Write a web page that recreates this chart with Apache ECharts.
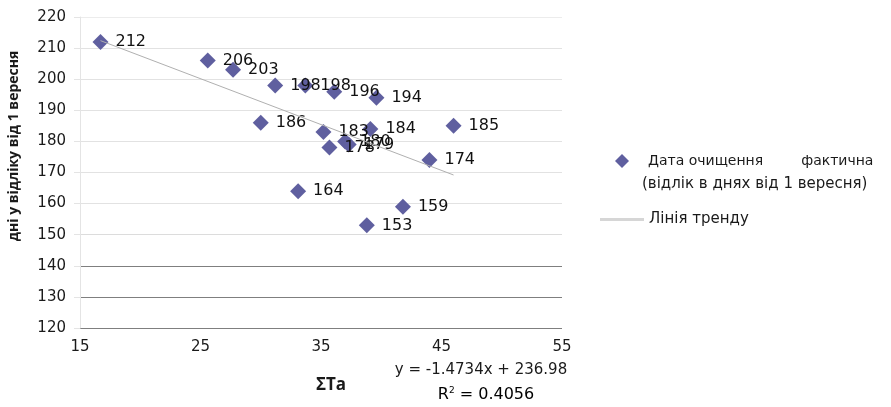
<!DOCTYPE html>
<html>
<head>
<meta charset="utf-8">
<script src="https://cdn.jsdelivr.net/npm/echarts@6/dist/echarts.min.js"></script>
<style>
html,body{margin:0;padding:0;background:#fff;}
#c{width:891px;height:407px;}
</style>
</head>
<body>
<div id="c"></div>
<script>
// ΣTa values (x) and date of cleaning, days from 1 September (y)
const sumTa = [16.7, 25.6, 27.7, 31.2, 33.7, 36.1, 39.6, 30.0, 35.2, 35.7, 37.0, 37.3, 39.1, 46.0, 44.0, 33.1, 41.8, 38.8];
const days  = [212, 206, 203, 198, 198, 196, 194, 186, 183, 178, 180, 179, 184, 185, 174, 164, 159, 153];
// trend line ends (y = -1.4734x + 236.98)
const trendX = [16.7, 46.0];
const trendY = [212.4, 169.2];
const seriesName = 'Дата очищення фактична (відлік в днях від 1 вересня)';
const trendName = 'Лінія тренду';
const xAxisTitle = 'ΣTa';
const yAxisTitle = 'дні у відліку від 1 вересня';
const equation = 'y = -1.4734x + 236.98';
const r2Value = '0.4056';

const FONT = '"DejaVu Sans", "Noto Sans", sans-serif';
const TFONT = '"Open Sans", "Noto Sans", sans-serif';
const points = sumTa.map((x, i) => [x, days[i]]);
const trend = trendX.map((x, i) => [x, trendY[i]]);

// split line colours: 120,130,140 dark, rest faint
const gridColors = ['#7f7f7f', '#7f7f7f', '#7f7f7f', '#dcdcdc', '#e2e2e2', '#e2e2e2', '#e2e2e2', '#e2e2e2', '#e2e2e2', '#e2e2e2', '#ececec'];
const tickColors = ['#7f7f7f', '#7f7f7f', '#7f7f7f', '#d6d6d6', '#d6d6d6', '#d6d6d6', '#d6d6d6', '#d6d6d6', '#d6d6d6', '#d6d6d6', '#e6e6e6'];

const chart = echarts.init(document.getElementById('c'));
chart.setOption({
  animation: false,
  backgroundColor: '#fff',
  grid: {left: 80, right: 329, top: 17, bottom: 79},
  xAxis: {
    type: 'value', min: 15, max: 55, interval: 10,
    axisLine: {show: false},
    axisTick: {show: false},
    splitLine: {show: false},
    axisLabel: {color: '#1a1a1a', fontSize: 15, fontFamily: FONT, margin: 12}
  },
  yAxis: {
    type: 'value', min: 120, max: 220, interval: 10,
    axisLine: {show: true, lineStyle: {color: '#e4e4e4'}},
    axisTick: {show: true, length: 6, lineStyle: {color: tickColors}},
    splitLine: {show: true, lineStyle: {color: gridColors, width: 1}},
    axisLabel: {color: '#1a1a1a', fontSize: 15, fontFamily: FONT, margin: 14}
  },
  legend: [
    {
      data: [seriesName],
      left: 610, top: 126, orient: 'vertical',
      itemWidth: 14, itemHeight: 14,
      itemStyle: {opacity: 1},
      formatter: () => '{e| }\n{a|Дата очищення}{g|}{a|фактична}\n{b|(відлік в днях від 1 вересня)}',
      textStyle: {
        fontFamily: FONT, fontSize: 14, color: '#1a1a1a',
        rich: {
          e: {lineHeight: 23, fontSize: 14},
          a: {lineHeight: 23, fontSize: 14, fontFamily: FONT, color: '#1a1a1a'},
          g: {width: 38},
          b: {lineHeight: 23, fontSize: 15, fontFamily: FONT, color: '#1a1a1a', padding: [0, 0, 0, -6]}
        },
        padding: [0, 0, 0, 14]
      }
    },
    {
      data: [{name: trendName, icon: 'rect'}],
      left: 595, top: 207,
      itemWidth: 44, itemHeight: 3,
      itemStyle: {color: '#d6d6d6'},
      textStyle: {fontFamily: FONT, fontSize: 15, color: '#1a1a1a'}
    }
  ],
  series: [
    {
      name: seriesName,
      type: 'scatter',
      data: points,
      symbol: 'diamond',
      symbolSize: 16,
      itemStyle: {color: '#5f5f9f', opacity: 1},
      z: 3,
      label: {
        show: true, position: 'right', distance: 7,
        formatter: p => String(p.value[1]),
        color: '#111', fontSize: 16, fontFamily: FONT
      }
    },
    {
      name: trendName,
      type: 'line',
      data: trend,
      symbol: 'none',
      showSymbol: false,
      lineStyle: {color: '#b0b0b0', width: 1},
      itemStyle: {color: '#d6d6d6'},
      z: 4
    }
  ],
  graphic: [
    {
      type: 'text', x: 331, y: 385,
      style: {text: xAxisTitle, fontFamily: TFONT, fontSize: 17, fontWeight: 'bold', fill: '#1a1a1a', align: 'center', verticalAlign: 'middle'}
    },
    {
      type: 'text', x: 14, y: 146, rotation: Math.PI / 2,
      style: {text: yAxisTitle, fontFamily: TFONT, fontSize: 14, fontWeight: 'bold', fill: '#1a1a1a', align: 'center', verticalAlign: 'middle'}
    },
    {
      type: 'text', x: 481, y: 370,
      style: {text: equation, fontFamily: FONT, fontSize: 15, fill: '#1a1a1a', align: 'center', verticalAlign: 'middle'}
    },
    {
      type: 'text', x: 486, y: 395,
      style: {
        text: '{r|R}{s|2}{r| = ' + r2Value + '}',
        align: 'center', verticalAlign: 'middle',
        rich: {
          r: {fontFamily: FONT, fontSize: 16, color: '#1a1a1a'},
          s: {fontFamily: FONT, fontSize: 9, color: '#1a1a1a', verticalAlign: 'top', padding: [0, 0, 8, 0]}
        }
      }
    }
  ]
});
</script>
</body>
</html>
